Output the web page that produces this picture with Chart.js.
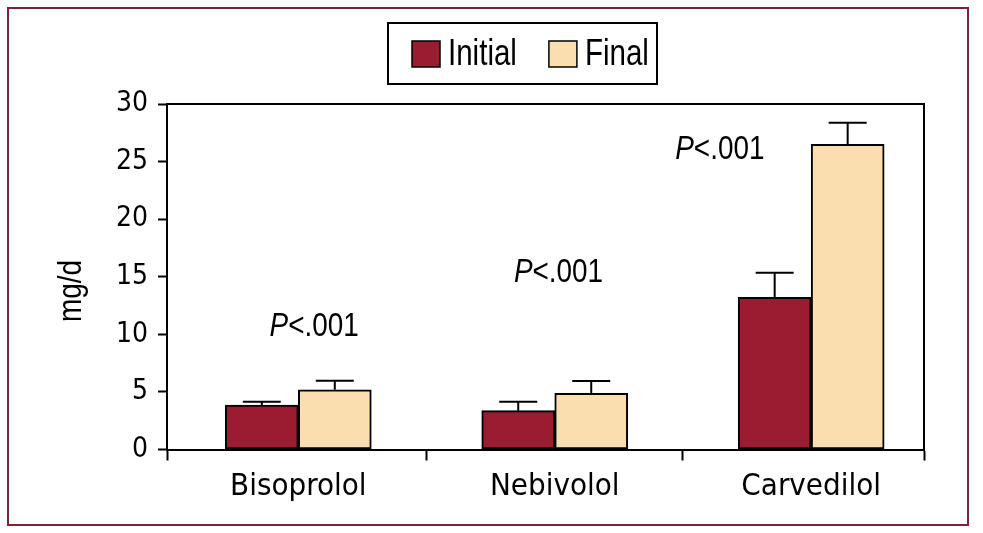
<!DOCTYPE html>
<html>
<head>
<meta charset="utf-8">
<script src="https://cdn.jsdelivr.net/npm/chart.js@4.4.1/dist/chart.umd.min.js"></script>
<style>
  html, body { margin: 0; padding: 0; background: #fff; }
  #wrap { width: 983px; height: 533px; position: relative; }
</style>
</head>
<body>
<div id="wrap"><canvas id="chart"></canvas></div>
<script>
// data (mg/d, mean and upper error)
const categories = ['Bisoprolol', 'Nebivolol', 'Carvedilol'];
const initialDose = [3.86, 3.37, 13.22];
const initialErr = [0.29, 0.78, 2.13];
const finalDose = [5.19, 4.88, 26.5];
const finalErr = [0.78, 1.07, 1.88];
const yTicks = [0, 5, 10, 15, 20, 25, 30];
const pValues = ['<.001', '<.001', '<.001'];

// where the P labels sit, in axis units
const pLabelPos = [
  { x: -0.112, y: 9.88 },
  { x: 0.841, y: 14.57 },
  { x: 1.47, y: 25.2 }
];

const FONT = '"Liberation Sans Narrow", "DejaVu Sans Condensed", "Liberation Sans", sans-serif';
const TEXT_FONT = '"Liberation Sans", Arial, sans-serif';
const NARROW = 0.82; // squeeze Arial-like text into a condensed look
const MAROON = 'rgb(155, 28, 49)';
const PEACH = 'rgb(250, 222, 176)';

const toPoints = vals => vals.map((v, i) => ({ x: i, y: v }));

// draws condensed text, returns the drawn width
function narrowText(ctx, str, x, y, font) {
  ctx.save();
  ctx.font = font;
  ctx.translate(x, y);
  ctx.scale(NARROW, 1);
  ctx.fillText(str, 0, 0);
  const w = ctx.measureText(str).width * NARROW;
  ctx.restore();
  return w;
}

const errorBars = {
  id: 'errorBars',
  afterDatasetsDraw(chart) {
    const ctx = chart.ctx;
    const y = chart.scales.y;
    ctx.save();
    ctx.strokeStyle = '#000';
    ctx.lineWidth = 2;
    chart.data.datasets.forEach((ds, i) => {
      chart.getDatasetMeta(i).data.forEach((bar, j) => {
        const top = y.getPixelForValue(ds.data[j].y + ds.errors[j]);
        ctx.beginPath();
        ctx.moveTo(bar.x, bar.y);
        ctx.lineTo(bar.x, top);
        ctx.moveTo(bar.x - 19, top);
        ctx.lineTo(bar.x + 19, top);
        ctx.stroke();
      });
    });
    ctx.restore();
  }
};

const decorations = {
  id: 'decorations',
  afterDraw(chart) {
    const ctx = chart.ctx;
    const a = chart.chartArea;
    ctx.save();

    // outer frame
    ctx.strokeStyle = 'rgb(125, 35, 55)';
    ctx.lineWidth = 2;
    ctx.strokeRect(8, 8, 960, 517);

    // top and right edges of the plot box
    ctx.strokeStyle = '#000';
    ctx.lineWidth = 2;
    ctx.beginPath();
    ctx.moveTo(a.left, a.top);
    ctx.lineTo(a.right, a.top);
    ctx.lineTo(a.right, a.bottom);
    ctx.stroke();

    ctx.fillStyle = '#000';

    // y axis title
    ctx.save();
    ctx.translate(72, 291);
    ctx.rotate(-Math.PI / 2);
    ctx.textAlign = 'center';
    ctx.textBaseline = 'middle';
    narrowText(ctx, 'mg/d', 0, 0, '34px ' + TEXT_FONT);
    ctx.restore();

    // legend
    ctx.lineWidth = 2;
    ctx.strokeRect(388, 23, 269, 61);
    ctx.textBaseline = 'middle';
    ctx.textAlign = 'left';
    let lx = 412;
    chart.data.datasets.forEach(ds => {
      ctx.fillStyle = ds.backgroundColor;
      ctx.fillRect(lx, 41, 28, 26);
      ctx.lineWidth = 1.5;
      ctx.strokeRect(lx, 41, 28, 26);
      ctx.fillStyle = '#000';
      const w = narrowText(ctx, ds.label, lx + 36, 55, '36px ' + TEXT_FONT);
      lx += 36 + w + 32;
    });

    // P labels
    const xs = chart.scales.x, ys = chart.scales.y;
    ctx.textBaseline = 'alphabetic';
    pValues.forEach((p, i) => {
      const px = xs.getPixelForValue(pLabelPos[i].x);
      const py = ys.getPixelForValue(pLabelPos[i].y);
      const w = narrowText(ctx, 'P', px, py, 'italic 34px ' + TEXT_FONT);
      narrowText(ctx, p, px + w, py, '34px ' + TEXT_FONT);
    });

    ctx.restore();
  }
};

const barStyle = {
  borderColor: '#000',
  borderWidth: 2,
  borderSkipped: false,
  barThickness: 73
};

new Chart(document.getElementById('chart'), {
  type: 'bar',
  data: {
    datasets: [
      Object.assign({
        label: 'Initial',
        data: toPoints(initialDose),
        errors: initialErr,
        backgroundColor: MAROON
      }, barStyle),
      Object.assign({
        label: 'Final',
        data: toPoints(finalDose),
        errors: finalErr,
        backgroundColor: PEACH
      }, barStyle)
    ]
  },
  options: {
    responsive: true,
    maintainAspectRatio: false,
    animation: false,
    layout: { padding: { left: 0, right: 59, top: 104, bottom: 23.5 } },
    plugins: {
      legend: { display: false },
      tooltip: { enabled: false }
    },
    scales: {
      x: {
        type: 'linear',
        min: -0.512,
        max: 2.44,
        offset: false,
        afterBuildTicks: s => { s.ticks = [s.min, 0, 0.5, 1, 1.5, 2, s.max].map(v => ({ value: v })); },
        afterFit: s => { s.height = 60; },
        grid: {
          drawOnChartArea: false,
          offset: false,
          tickLength: 11,
          tickWidth: 2,
          tickColor: c => (c.tick && Number.isInteger(c.tick.value)) ? 'rgba(0,0,0,0)' : '#000'
        },
        border: { color: '#000', width: 2 },
        ticks: {
          autoSkip: false,
          maxRotation: 0,
          padding: 8,
          color: '#000',
          font: { family: FONT, size: 31 },
          callback: v => Number.isInteger(v) ? categories[v] : ''
        }
      },
      y: {
        min: 0,
        max: 30,
        afterBuildTicks: s => { s.ticks = yTicks.map(v => ({ value: v })); },
        afterFit: s => { s.width = 167; },
        grid: { drawOnChartArea: false, tickLength: 9, tickWidth: 2, tickColor: '#000' },
        border: { color: '#000', width: 2 },
        ticks: {
          padding: 10,
          color: '#000',
          font: { family: FONT, size: 28 }
        }
      }
    }
  },
  plugins: [errorBars, decorations]
});
</script>
</body>
</html>
